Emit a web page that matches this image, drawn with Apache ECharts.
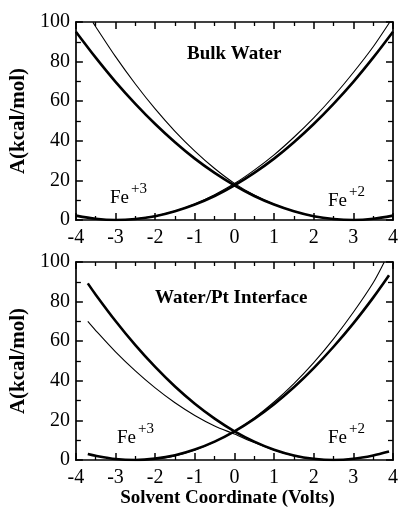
<!DOCTYPE html>
<html><head><meta charset="utf-8">
<script src="https://cdn.jsdelivr.net/npm/echarts@6/dist/echarts.min.js"></script>
<style>html,body{margin:0;padding:0;background:#fff}#c{width:401px;height:510px}</style>
</head><body><div id="c"></div>
<script>
// ---- data ----
const xTicks = [-4, -3, -2, -1, 0, 1, 2, 3, 4];
const yTicks = [0, 20, 40, 60, 80, 100];
// Bulk water panel
const bulkFe2Thick = [[-4,95.1],[-3.5,82],[-3,69.8],[-2.5,58.7],[-2,48.5],[-1.5,39.3],[-1,31],[-0.5,23.8],[0,17.5],[0.5,12.1],[1,7.8],[1.5,4.4],[2,1.9],[2.5,0.5],[3,0],[3.5,0.6],[4,2.2]];
const bulkFe2Thin = [[-3.57,99.8],[-3.5,97.6],[-3,82.5],[-2.5,68.7],[-2,56.1],[-1.5,44.8],[-1,34.8],[-0.5,26],[0,18.5],[0.5,12.6],[1,7.9],[1.5,4.4],[2,1.8],[2.5,0.4],[2.9,0.1]];
const bulkFe3Thick = [[-4,2.2],[-3.5,0.6],[-3,0],[-2.5,0.5],[-2,1.9],[-1.5,4.4],[-1,7.8],[-0.5,12.1],[0,17.5],[0.5,23.8],[1,31],[1.5,39.3],[2,48.5],[2.5,58.7],[3,69.8],[3.5,82],[4,95.1]];
const bulkFe3Thin = [[-2.5,0.5],[-2,2],[-1.5,4.5],[-1,8.1],[-0.5,12.8],[0,18.4],[0.5,25.2],[1,32.9],[1.5,41.8],[2,51.6],[2.5,62.5],[3,74.5],[3.5,87.5],[3.92,100]];
// Water/Pt interface panel
const ptFe2Thick = [[-3.7,89.2],[-3.5,83.5],[-3,70.2],[-2.5,58],[-2,47],[-1.5,37.1],[-1,28.4],[-0.5,20.9],[0,14.5],[0.5,9.3],[1,5.2],[1.5,2.3],[2,0.6],[2.5,0],[3,0.6],[3.5,2.3],[3.9,4.3]];
const ptFe2Thin = [[-3.7,70],[-3.5,65.4],[-3,54.6],[-2.5,45],[-2,36.4],[-1.5,28.9],[-1,22.5],[-0.5,17.2],[0,13.1],[0.5,8.8],[1,5],[1.5,2.1],[2,0.6],[2.3,0.2]];
const ptFe3Thick = [[-3.7,3],[-3.5,2.1],[-3,0.5],[-2.5,0],[-2,0.7],[-1.5,2.4],[-1,5.3],[-0.5,9.3],[0,14.5],[0.5,20.8],[1,28.2],[1.5,36.7],[2,46.4],[2.5,57.2],[3,69],[3.5,82],[3.9,93.3]];
const ptFe3Thin = [[-2,0.5],[-1.5,2.1],[-1,5],[-0.5,9.2],[0,14.5],[0.5,21.3],[1,29.3],[1.5,38.6],[2,49.2],[2.5,61.2],[3,74.6],[3.5,89.5],[3.78,100]];
// texts
const panelTitles = ['Bulk Water', 'Water/Pt Interface'];
const yName = 'A(kcal/mol)';
const xName = 'Solvent Coordinate (Volts)';

const FAM = '"Liberation Serif", "DejaVu Serif", serif';
const grids = [
  {left: 74, top: 22, width: 320, height: 198},
  {left: 74, top: 262, width: 319, height: 198}
];
function xAx(gi, pos, labels, name) {
  return {
    type: 'value', gridIndex: gi, position: pos, min: xTicks[0], max: xTicks[xTicks.length-1], interval: 1,
    axisLine: {show: true, onZero: false, lineStyle: {color: '#000', width: 1.7}},
    axisTick: {show: true, inside: true, length: 7, lineStyle: {color: '#000', width: 1.5}},
    minorTick: {show: true, splitNumber: 2, length: 4, lineStyle: {color: '#000', width: 1.3}},
    splitLine: {show: false},
    axisLabel: {show: labels, margin: 8, color: '#000', fontFamily: FAM, fontSize: 20},
    name: name || '', nameLocation: 'middle', nameGap: 27,
    nameTextStyle: {color: '#000', fontFamily: FAM, fontSize: 19, fontWeight: 'bold', padding: [0, 14, 0, 0]}
  };
}
function yAx(gi, pos, labels) {
  return {
    type: 'value', gridIndex: gi, position: pos, min: yTicks[0], max: yTicks[yTicks.length-1], interval: 20,
    axisLine: {show: true, onZero: false, lineStyle: {color: '#000', width: 1.7}},
    axisTick: {show: true, inside: true, length: 7, lineStyle: {color: '#000', width: 1.5}},
    minorTick: {show: true, splitNumber: 2, length: 5, lineStyle: {color: '#000', width: 1.3}},
    splitLine: {show: false},
    axisLabel: {show: labels, margin: 6, color: '#000', fontFamily: FAM, fontSize: 20},
    name: labels ? yName : '', nameLocation: 'middle', nameGap: 41, nameRotate: 90,
    nameTextStyle: {color: '#000', fontFamily: FAM, fontSize: 21, fontWeight: 'bold'}
  };
}
function line(data, gi, w) {
  return {type: 'line', data: data, xAxisIndex: gi*2, yAxisIndex: gi*2, smooth: 0.3, showSymbol: false,
    symbol: 'none', silent: true, lineStyle: {color: '#000', width: w}, clip: true};
}
function feLabel(x, y, sup) {
  return [
    {type: 'text', left: x, top: y, style: {text: 'Fe', font: '19px ' + FAM, fill: '#000'}},
    {type: 'text', left: x + 21, top: y - 7, style: {text: sup, font: '15px ' + FAM, fill: '#000'}}
  ];
}
const chart = echarts.init(document.getElementById('c'), null, {renderer: 'canvas'});
chart.setOption({
  animation: false,
  textStyle: {fontFamily: FAM},
  grid: grids,
  xAxis: [xAx(0, 'bottom', true), xAx(0, 'top', false), xAx(1, 'bottom', true, xName), xAx(1, 'top', false)],
  yAxis: [yAx(0, 'left', true), yAx(0, 'right', false), yAx(1, 'left', true), yAx(1, 'right', false)],
  series: [
    line(bulkFe2Thick, 0, 2.6), line(bulkFe2Thin, 0, 1.1), line(bulkFe3Thick, 0, 2.6), line(bulkFe3Thin, 0, 1.1),
    line(ptFe2Thick, 1, 2.6), line(ptFe2Thin, 1, 1.1), line(ptFe3Thick, 1, 2.6), line(ptFe3Thin, 1, 1.1)
  ],
  graphic: [
    {type: 'text', left: 187, top: 45, style: {text: panelTitles[0], font: 'bold 19px ' + FAM, fill: '#000'}},
    {type: 'text', left: 155, top: 289, style: {text: panelTitles[1], font: 'bold 19px ' + FAM, fill: '#000'}}
  ].concat(feLabel(110, 189, '+3'), feLabel(328, 192, '+2'), feLabel(117, 429, '+3'), feLabel(328, 429, '+2'))
});
</script></body></html>
